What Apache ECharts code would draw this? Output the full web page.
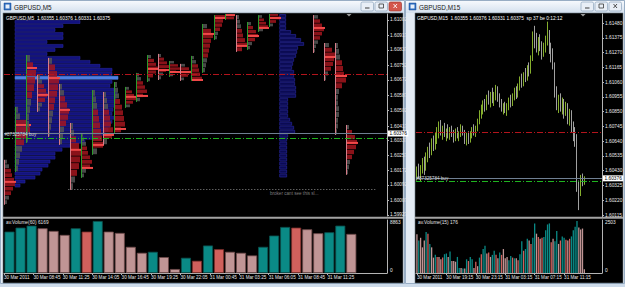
<!DOCTYPE html>
<html>
<head>
<meta charset="utf-8">
<script src="https://cdn.jsdelivr.net/npm/echarts@6.0.0/dist/echarts.min.js"></script>
<style>
html,body{margin:0;padding:0;background:#cfdceb;overflow:hidden;}
#chart{width:625px;height:287px;}
</style>
</head>
<body>
<div id="chart"></div>
<script>
const FONT = 'Liberation Sans';

// ================= LEFT WINDOW : GBPUSD,M5 =================
const leftPriceTicks = [1.61002,1.60917,1.60837,1.60752,1.60672,1.60587,1.60502,1.60417,1.60337,1.60257,1.60172,1.60092,1.60007,1.59927];
const leftTimeTicks = [0,160,320,480,640,800,960,1120,1280,1440,1600,1760]; // minutes after 30 Mar 06:05
const leftTimeLabels = ['30 Mar 2011','30 Mar 08:45','30 Mar 11:25','30 Mar 14:05','30 Mar 16:45','30 Mar 19:25','30 Mar 22:05','31 Mar 00:45','31 Mar 03:25','31 Mar 06:05','31 Mar 08:45','31 Mar 11:25'];
const leftVolMax = 8863;
const leftVolume = [6924,7589,7921,7478,7035,6370,7478,6924,8697,6924,6703,4376,3379,3545,2659,665,2548,2050,4598,3988,3545,3379,2936,4376,6260,7700,7589,7312,6647,6813,7921,6536];
const leftVolType = ['t','t','t','p','p','p','t','r','t','p','p','p','p','t','p','p','t','r','t','r','p','p','p','t','t','t','r','p','p','t','t','p'];

// hourly market-profile sessions
const sessHour = [0,1,2,3,4,5,6,7,8,9,10,11,12,13,14,15,16,17,18,19,20,21,22,23,24,28,29,30,31];
const sessHigh = [1.60231,1.60523,1.60809,1.60699,1.60793,1.60649,1.60434,1.60379,1.60616,1.60605,1.60660,1.60633,1.60710,1.60809,1.60815,1.60776,1.60760,1.60804,1.60980,1.61029,1.61040,1.61029,1.60991,1.61029,1.61040,1.61029,1.60875,1.60875,1.60423];
const sessLow  = [1.59983,1.60164,1.60324,1.60495,1.60357,1.60313,1.60065,1.60131,1.60258,1.60313,1.60379,1.60517,1.60550,1.60660,1.60671,1.60688,1.60666,1.60666,1.60710,1.60892,1.61002,1.60826,1.60837,1.60936,1.60963,1.60820,1.60666,1.60368,1.60148];
const sessPOC  = [1.60109,1.60423,1.60737,1.60589,1.60682,1.60506,1.60286,1.60186,1.60313,1.60368,1.60401,1.60578,1.60583,1.60732,1.60726,1.60715,1.60715,1.60671,1.60925,1.61013,1.61029,1.60859,1.60914,1.60958,1.61013,1.60958,1.60798,1.60693,1.60324];
const sessDir  = ['d','u','u','d','d','d','d','u','u','d','u','u','u','u','d','u','d','u','u','u','u','d','u','u','u','d','d','d','d'];
const sessProfile = [
  [2,4,6,7,9,10,8,6,4,2],
  [2,4,10,14,12,8,6,4,3,2],
  [3,6,9,8,7,5,4,3,2,2,1,1],
  [2,4,6,8,9,7,4,2],
  [3,6,8,10,9,8,6,5,4,3,2,1],
  [2,4,5,7,9,8,6,4,3,2],
  [2,3,5,8,10,9,8,6,4,2],
  [1,2,4,5,6,8,10,8,4,2],
  [2,3,4,5,6,7,8,9,10,4],
  [2,3,4,5,6,7,9,8,3],
  [2,3,4,5,7,8,9,10,6],
  [3,6,8,10,7,4],
  [2,4,6,8,10,6,3],
  [3,6,8,10,8,5,2],
  [2,5,8,10,7,4,2],
  [4,8,10,6,3],
  [4,8,10,7,3],
  [2,4,6,7,8,10],
  [4,8,10,8,7,6,5,4,3,2],
  [10,8,7,5,3,2],
  [6,8],
  [2,3,4,5,6,8,10,5],
  [3,5,8,10,7,4,2],
  [3,5,7,9,4],
  [8,10,6,3],
  [4,6,8,10,8,6,4,2,1],
  [4,7,10,9,8,6,3,1],
  [2,3,4,6,7,8,10,6,3,2,2,3,3,2,2,1],
  [2,5,8,10,9,7,5,3,2,1]
];

// daily volume profiles
const dayProfileStartMin = [60, 1500];
const day1Levels = [1.60991,1.60969,1.60947,1.60925,1.60903,1.60881,1.60859,1.60837,1.60815,1.60793,1.60771,1.60749,1.60727,1.60705,1.60683,1.60661,1.60639,1.60617,1.60595,1.60573,1.60551,1.60529,1.60507,1.60485,1.60463,1.60441,1.60419,1.60397,1.60375,1.60353,1.60331,1.60309,1.60287,1.60265,1.60243,1.60221,1.60199,1.60177,1.60155,1.60133,1.60111,1.60089];
const day1Volume = [65,48,40,48,48,32,48,40,32,65,75,85,97,97,103,97,95,99,102,101,100,100,98,97,99,97,95,93,90,85,70,55,47,40,40,35,33,27,25,20,10,5];
const day1POC = 1.60683;
const day2Levels = [1.61024,1.61002,1.60980,1.60958,1.60936,1.60914,1.60892,1.60870,1.60848,1.60826,1.60804,1.60782,1.60760,1.60738,1.60716,1.60694,1.60672,1.60650,1.60628,1.60606,1.60584,1.60562,1.60540,1.60518,1.60496,1.60474,1.60452,1.60430,1.60408,1.60386,1.60364,1.60342,1.60320,1.60298,1.60276,1.60254,1.60232,1.60210,1.60188,1.60166,1.60144];
const day2Volume = [6,6,6,6,11,16,21,24,18,17,16,14,13,12,14,14,15,15,16,16,16,8,8,8,8,8,10,12,14,15,8,7,7,7,7,7,7,7,7,7,7];

// price levels
const levelTarget = 1.60700;
const levelBid = 1.60376;
const levelOrder = 1.60352;
const stopLevel = 1.60070, stopFromMin = 350, stopToMin = 2020, stopTextMin = 1447;

// ================= RIGHT WINDOW : GBPUSD,M15 =================
const rightPriceTicks = [1.61480,1.61375,1.61270,1.61165,1.61060,1.60955,1.60850,1.60745,1.60640,1.60535,1.60430,1.60325,1.60220,1.60115];
const rightTimeTicks = [0,16,32,48,64,80];
const rightTimeLabels = ['30 Mar 2011','30 Mar 19:15','30 Mar 23:15','31 Mar 03:15','31 Mar 07:15','31 Mar 11:15'];
const rightOHLC = [
[1.6041,1.6046,1.6036,1.6043],[1.6043,1.6048,1.6037,1.6039],[1.6039,1.6047,1.6035,1.6045],[1.6045,1.6052,1.6041,1.6048],
[1.6048,1.6053,1.6040,1.6044],[1.6044,1.6056,1.6043,1.6054],[1.6054,1.6060,1.6049,1.6057],[1.6057,1.6063,1.6052,1.6055],
[1.6055,1.6066,1.6054,1.6063],[1.6063,1.6068,1.6057,1.6060],[1.6060,1.6070,1.6058,1.6067],[1.6067,1.6074,1.6062,1.6070],
[1.6070,1.6078,1.6066,1.6075],[1.6075,1.6079,1.6068,1.6070],[1.6070,1.6075,1.6065,1.6072],[1.6072,1.6077,1.6067,1.6069],
[1.6069,1.6073,1.6064,1.6071],[1.6071,1.6076,1.6066,1.6068],[1.6068,1.6074,1.6065,1.6072],[1.6072,1.6075,1.6067,1.6069],
[1.6069,1.6072,1.6063,1.6066],[1.6066,1.6073,1.6064,1.6071],[1.6071,1.6074,1.6066,1.6068],[1.6068,1.6071,1.6064,1.6070],
[1.6070,1.6076,1.6067,1.6073],[1.6073,1.6075,1.6068,1.6069],[1.6069,1.6072,1.6062,1.6064],[1.6064,1.6070,1.6061,1.6067],
[1.6067,1.6071,1.6062,1.6065],[1.6065,1.6071,1.6063,1.6069],[1.6069,1.6074,1.6066,1.6072],[1.6072,1.6076,1.6068,1.6070],
[1.6070,1.6075,1.6067,1.6074],[1.6074,1.6080,1.6071,1.6078],[1.6078,1.6086,1.6076,1.6084],[1.6084,1.6090,1.6080,1.6087],
[1.6087,1.6093,1.6083,1.6090],[1.6090,1.6094,1.6085,1.6088],[1.6088,1.6097,1.6086,1.6095],[1.6095,1.6100,1.6090,1.6092],
[1.6092,1.6099,1.6088,1.6097],[1.6097,1.6102,1.6091,1.6094],[1.6094,1.6099,1.6089,1.6096],[1.6096,1.6104,1.6093,1.6101],
[1.6101,1.6103,1.6092,1.6095],[1.6095,1.6098,1.6088,1.6090],[1.6090,1.6094,1.6085,1.6087],[1.6087,1.6091,1.6083,1.6089],
[1.6089,1.6092,1.6084,1.6086],[1.6086,1.6091,1.6082,1.6088],[1.6088,1.6095,1.6086,1.6093],[1.6093,1.6097,1.6088,1.6090],
[1.6090,1.6098,1.6089,1.6096],[1.6096,1.6102,1.6093,1.6099],[1.6099,1.6103,1.6094,1.6097],[1.6097,1.6105,1.6095,1.6103],
[1.6103,1.6110,1.6100,1.6107],[1.6107,1.6112,1.6102,1.6104],[1.6104,1.6113,1.6103,1.6111],[1.6111,1.6116,1.6106,1.6109],
[1.6109,1.6118,1.6107,1.6115],[1.6115,1.6120,1.6110,1.6113],[1.6113,1.6125,1.6112,1.6123],[1.6123,1.6142,1.6121,1.6139],
[1.6139,1.6146,1.6130,1.6135],[1.6135,1.6141,1.6127,1.6131],[1.6131,1.6138,1.6125,1.6136],[1.6136,1.6140,1.6128,1.6130],
[1.6130,1.6135,1.6122,1.6127],[1.6127,1.6134,1.6124,1.6132],[1.6132,1.6139,1.6127,1.6135],[1.6135,1.6149,1.6132,1.6140],
[1.6140,1.6143,1.6126,1.6129],[1.6129,1.6134,1.6120,1.6124],[1.6124,1.6130,1.6115,1.6118],[1.6118,1.6120,1.6095,1.6098],
[1.6098,1.6103,1.6086,1.6090],[1.6090,1.6097,1.6084,1.6094],[1.6094,1.6098,1.6085,1.6088],[1.6088,1.6095,1.6083,1.6091],
[1.6091,1.6094,1.6080,1.6084],[1.6084,1.6092,1.6082,1.6089],[1.6089,1.6091,1.6076,1.6079],[1.6079,1.6087,1.6075,1.6084],
[1.6084,1.6086,1.6070,1.6073],[1.6073,1.6078,1.6064,1.6068],[1.6068,1.6074,1.6060,1.6066],[1.6066,1.6069,1.6028,1.6031],
[1.6031,1.6036,1.6015,1.6029],[1.6029,1.6040,1.6025,1.6036],[1.6036,1.6041,1.6032,1.6034],[1.6034,1.6039,1.6033,1.60375]
];
const rightVolMax = 2503;
const rightVolume = [1825,1534,1663,1211,1534,1938,1857,1373,1211,727,856,759,759,646,727,888,921,759,1017,565,565,533,759,242,242,210,210,646,565,759,646,242,533,323,727,888,1131,1292,921,969,759,856,1050,856,694,969,856,1131,694,759,598,808,727,694,694,598,888,1502,1050,1131,1615,1534,1373,1663,2342,1857,1696,1615,1663,1696,2019,2293,2342,1454,1615,1502,1986,1373,1534,1728,1663,1567,1534,1615,1728,2019,2180,2455,2148,2051,2100,176];
const rightVolType = ['p','t','p','p','p','t','r','t','p','p','t','r','p','p','r','t','t','p','t','p','p','p','t','t','p','t','p','t','r','t','t','p','r','p','t','r','t','t','p','r','p','t','t','r','p','t','r','p','p','p','t','t','r','t','p','r','t','t','r','t','t','p','r','t','t','p','r','p','r','t','t','t','t','r','p','t','t','p','r','t','t','r','p','r','t','t','t','t','p','p','p','p'];

// ================= styling =================
const VOL_COLORS = {t:'#0a8a86', p:'#c09595', r:'#d0605c'};
const VOL_BORDER = {t:'#0b4f4d', p:'#6e4a4a', r:'#7a2d2a'};
const UNIT_MIN = 5.44; // minutes of x-axis per profile volume unit
const AXIS_TXT = '#e8e8e8';

function blueProfileRender(levels, startMin, pocPrice, fill, stroke, pocFill) {
  const half = Math.abs(levels[0] - levels[1]) / 2;
  return function (params, api) {
    const p = api.value(0), v = api.value(1);
    const a = api.coord([startMin, p + half]);
    const b = api.coord([startMin, p - half]);
    const w = api.size([v * UNIT_MIN, 0])[0];
    const isPoc = pocPrice != null && Math.abs(p - pocPrice) < 1e-7;
    return {type:'rect', shape:{x:a[0], y:a[1] + 0.5, width:w, height:Math.max(b[1] - a[1] - 1, 0.8)},
      style:{fill: isPoc ? pocFill : fill, stroke: isPoc ? pocFill : stroke, lineWidth:0.6}};
  };
}

function sessionRender(params, api) {
  const i = params.dataIndex;
  const h = api.value(0), hi = api.value(1), lo = api.value(2), poc = api.value(3);
  const prof = sessProfile[i];
  const top = api.coord([h * 60, hi]);
  const bot = api.coord([h * 60, lo]);
  const x0 = Math.round(top[0]) + 0.5;
  const unit = api.size([UNIT_MIN, 0])[0];
  const n = prof.length;
  const rowH = (bot[1] - top[1]) / n;
  const mx = Math.max.apply(null, prof);
  const children = [];
  for (let k = 0; k < n; k++) {
    const red = prof[k] >= 0.45 * mx;
    children.push({type:'rect', shape:{x:x0 + 0.5, y:top[1] + k * rowH, width:prof[k] * unit, height:Math.max(rowH - 0.7, 0.7)},
      style:{fill: red ? 'rgba(168,22,30,0.82)' : 'rgba(85,85,85,0.85)'}});
  }
  const py = api.coord([h * 60, poc])[1];
  children.push({type:'rect', shape:{x:x0 + 0.5, y:py - 1, width:mx * unit + 1, height:2}, style:{fill:'#f04848'}});
  children.push({type:'line', shape:{x1:x0, y1:top[1], x2:x0, y2:bot[1]},
    style:{stroke: sessDir[i] === 'u' ? '#2c9b2c' : '#d57c88', lineWidth:1}});
  return {type:'group', children: children};
}

const dashDot = [6, 2, 1, 2];
function levelLines() {
  return [
    {yAxis: levelTarget, lineStyle:{color:'#b3141c', width:1, type:dashDot}},
    {yAxis: levelBid, lineStyle:{color:'#6f7f92', width:1, type:'solid'},
      label:{show:true, position:'end', formatter: levelBid.toFixed(5), distance:1, backgroundColor:'#ffffff', color:'#000', fontSize:4.8, fontFamily:FONT, padding:[0.5, 1.5]}},
    {yAxis: levelOrder, lineStyle:{color:'#1fb31f', width:1, type:dashDot},
      label:{show:true, position:'insideStartTop', formatter:'#87325784 buy', distance:0.5, color:'#d8d8d8', fontSize:4.6, fontFamily:FONT}}
  ];
}

const axisLineStyle = {color:'#b4b4b4', width:1};
function priceYAxis(grid, min, max, ticks) {
  return {gridIndex:grid, type:'value', position:'right', min:min, max:max, scale:true,
    axisLine:{show:true, onZero:false, lineStyle:axisLineStyle},
    axisTick:{show:true, customValues:ticks, length:2, lineStyle:axisLineStyle},
    axisLabel:{customValues:ticks, formatter:(v) => v.toFixed(5), color:AXIS_TXT, fontSize:4.8, fontFamily:FONT, margin:3},
    splitLine:{show:false}};
}
function volYAxis(grid, max) {
  return {gridIndex:grid, type:'value', position:'right', min:0, max:max,
    axisLine:{show:true, onZero:false, lineStyle:axisLineStyle},
    axisTick:{show:false},
    axisLabel:{customValues:[0, max], formatter:(v) => String(v), color:AXIS_TXT, fontSize:4.8, fontFamily:FONT, margin:3,
      verticalAlignMaxLabel:'top', verticalAlignMinLabel:'bottom'},
    splitLine:{show:false}};
}
function timeXAxis(grid, min, max, ticks, labels) {
  return {gridIndex:grid, type:'value', min:min, max:max,
    axisLine:{show:true, onZero:false, lineStyle:axisLineStyle},
    axisTick:{show:true, customValues:ticks, length:2, lineStyle:axisLineStyle},
    axisLabel:{customValues:ticks, formatter:(v) => labels[ticks.indexOf(v)], align:'left', color:AXIS_TXT, fontSize:4.6, fontFamily:FONT, margin:2},
    splitLine:{show:false}};
}

const option = {
  animation:false,
  backgroundColor:'transparent',
  grid:[
    {left:4, top:14, width:383, height:202, containLabel:false, outerBoundsMode:'none'},
    {left:4, top:220, width:383, height:53, containLabel:false, outerBoundsMode:'none'},
    {left:416, top:14, width:186, height:203, containLabel:false, outerBoundsMode:'none'},
    {left:416, top:220, width:186, height:53, containLabel:false, outerBoundsMode:'none'}
  ],
  xAxis:[
    {gridIndex:0, type:'value', min:0, max:2084, show:false},
    timeXAxis(1, 0, 2084, leftTimeTicks, leftTimeLabels),
    {gridIndex:2, type:'value', min:-0.5, max:100.6, show:false},
    timeXAxis(3, -0.5, 100.6, rightTimeTicks, rightTimeLabels)
  ],
  yAxis:[
    priceYAxis(0, 1.59921, 1.61035, leftPriceTicks),
    volYAxis(1, leftVolMax),
    priceYAxis(2, 1.60101, 1.61544, rightPriceTicks),
    volYAxis(3, rightVolMax)
  ],
  series:[
    {type:'custom', name:'profile 30 Mar', xAxisIndex:0, yAxisIndex:0, z:1, clip:true,
      encode:{y:0}, data: day1Levels.map((p, k) => [p, day1Volume[k]]),
      renderItem: blueProfileRender(day1Levels, dayProfileStartMin[0], day1POC, '#12127e', '#262699', '#4c7fe6')},
    {type:'custom', name:'profile 31 Mar', xAxisIndex:0, yAxisIndex:0, z:1, clip:true,
      encode:{y:0}, data: day2Levels.map((p, k) => [p, day2Volume[k]]),
      renderItem: blueProfileRender(day2Levels, dayProfileStartMin[1], null, '#0b0b52', '#2a2aa4', '#2a2aa4')},
    {type:'custom', name:'sessions', xAxisIndex:0, yAxisIndex:0, z:3, clip:true,
      encode:{x:0, y:[1,2,3]},
      data: sessHour.map((h, i) => [h, sessHigh[i], sessLow[i], sessPOC[i]]),
      renderItem: sessionRender},
    {type:'line', name:'levels M5', xAxisIndex:0, yAxisIndex:0, data:[], z:4,
      markLine:{silent:true, precision:5, symbol:['none','none'], animation:false, label:{show:false},
        data: levelLines().concat([[{coord:[stopFromMin, stopLevel], lineStyle:{color:'#8c8c8c', width:1, type:[1,2]}}, {coord:[stopToMin, stopLevel]}]])}},
    {type:'bar', name:'av.Volume(60)', xAxisIndex:1, yAxisIndex:1, barWidth:10,
      data: leftVolume.map((v, i) => ({value:[i * 60 + 30, v],
        itemStyle:{color:VOL_COLORS[leftVolType[i]], borderColor:VOL_BORDER[leftVolType[i]], borderWidth:0.8}}))},
    {type:'candlestick', name:'GBPUSD,M15', xAxisIndex:2, yAxisIndex:2, barWidth:1.2, clip:true,
      encode:{x:0, y:[1,2,3,4]},
      data: rightOHLC.map((r, i) => [i, r[0], r[3], r[2], r[1]]),
      itemStyle:{color:'#4d671c', color0:'#000000', borderColor:'#94c232', borderColor0:'#b2b2b2', borderWidth:0.9}},
    {type:'line', name:'levels M15', xAxisIndex:2, yAxisIndex:2, data:[], z:4,
      markLine:{silent:true, precision:5, symbol:['none','none'], animation:false, label:{show:false}, data: levelLines()}},
    {type:'bar', name:'av.Volume(15)', xAxisIndex:3, yAxisIndex:3, barWidth:1.3,
      data: rightVolume.map((v, i) => ({value:[i, v], itemStyle:{color:VOL_COLORS[rightVolType[i]]}}))}
  ]
};

const chart = echarts.init(document.getElementById('chart'), null, {renderer:'svg', width:625, height:287});
chart.setOption(option);

// ---------- window chrome & texts ----------
const g = [];
g.push({type:'rect', z:-200, silent:true, shape:{x:0, y:0, width:625, height:287}, style:{fill:'#cddbea'}});
function addWindow(x, w, blackX, blackW, title, closeRed) {
  g.push({type:'rect', z:-100, silent:true, shape:{x:x + 0.5, y:0.5, width:w - 1, height:283}, style:{fill:'#e3ebf4', stroke:'#98adc4', lineWidth:1}});
  g.push({type:'rect', z:-99, silent:true, shape:{x:x + 1, y:1, width:w - 2, height:12},
    style:{fill:{type:'linear', x:0, y:0, x2:0, y2:1, colorStops:[{offset:0, color:'#f6f9fd'}, {offset:1, color:'#d4e0ee'}]}}});
  g.push({type:'rect', z:-98, silent:true, shape:{x:x + 4, y:3, width:7, height:7}, style:{fill:'#2d6cc0', stroke:'#1c4f96', lineWidth:0.5}});
  g.push({type:'rect', z:-97, silent:true, shape:{x:x + 5.5, y:4.5, width:4, height:4}, style:{fill:'#e8f0fb'}});
  g.push({type:'text', z:-97, silent:true, x:x + 14, y:7.5, style:{text:title, fontSize:6.4, fontFamily:FONT, fill:'#202020', verticalAlign:'middle'}});
  const bx = x + w - 44;
  for (let k = 0; k < 3; k++) {
    const red = closeRed && k === 2;
    const xx = bx + k * 14;
    g.push({type:'rect', z:-97, silent:true, shape:{x:xx, y:2, width:12.5, height:9, r:1.5},
      style:{fill: red ? '#d4574c' : '#e8eef6', stroke: red ? '#9c3a32' : '#8da3bc', lineWidth:0.7}});
    const gc = red ? '#ffffff' : '#3a3a3a';
    if (k === 0) g.push({type:'rect', z:-96, silent:true, shape:{x:xx + 4, y:7.5, width:4.5, height:1}, style:{fill:gc}});
    if (k === 1) g.push({type:'rect', z:-96, silent:true, shape:{x:xx + 4, y:4, width:4.5, height:4}, style:{fill:'none', stroke:gc, lineWidth:0.8}});
    if (k === 2) {
      g.push({type:'line', z:-96, silent:true, shape:{x1:xx + 4.5, y1:4, x2:xx + 8, y2:8}, style:{stroke:gc, lineWidth:0.9}});
      g.push({type:'line', z:-96, silent:true, shape:{x1:xx + 8, y1:4, x2:xx + 4.5, y2:8}, style:{stroke:gc, lineWidth:0.9}});
    }
  }
  g.push({type:'rect', z:-90, silent:true, shape:{x:blackX, y:13, width:blackW, height:270}, style:{fill:'#000000', stroke:'#6d7885', lineWidth:0.6}});
  g.push({type:'rect', z:-80, silent:true, shape:{x:blackX, y:216.8, width:blackW, height:2}, style:{fill:'#a3a3a3'}});
}
addWindow(0, 405, 3, 400, 'GBPUSD,M5', true);
addWindow(405, 220, 415, 208, 'GBPUSD,M15', false);

const txt = (x, y, s, color, size) => ({type:'text', z:60, silent:true, x:x, y:y,
  style:{text:s, fontSize:size || 4.8, fontFamily:FONT, fill:color || '#ffffff', verticalAlign:'middle'}});
g.push(txt(6, 18.5, 'GBPUSD,M5  1.60355 1.60376 1.60331 1.60375'));
g.push(txt(417, 18.5, 'GBPUSD,M15  1.60355 1.60376 1.60331 1.60375  sp 37 be 0:12:12'));
g.push(txt(6, 222.5, 'av.Volume(60) 6169', '#e0e0e0'));
g.push(txt(418, 222.5, 'av.Volume(15) 176', '#e0e0e0'));
const sp = chart.convertToPixel({xAxisIndex:0, yAxisIndex:0}, [stopTextMin, stopLevel]);
g.push(txt(sp[0], sp[1] + 4.5, 'broker cant see this sl...', '#7d7d7d', 4.6));
// chart-shift markers
g.push({type:'polygon', z:60, silent:true, shape:{points:[[346.5, 14], [351.5, 14], [349, 16.5]]}, style:{fill:'#9a9a9a'}});
g.push({type:'polygon', z:60, silent:true, shape:{points:[[580.5, 14], [585.5, 14], [583, 16.5]]}, style:{fill:'#9a9a9a'}});

chart.setOption({graphic:{elements:g}});
</script>
</body>
</html>
